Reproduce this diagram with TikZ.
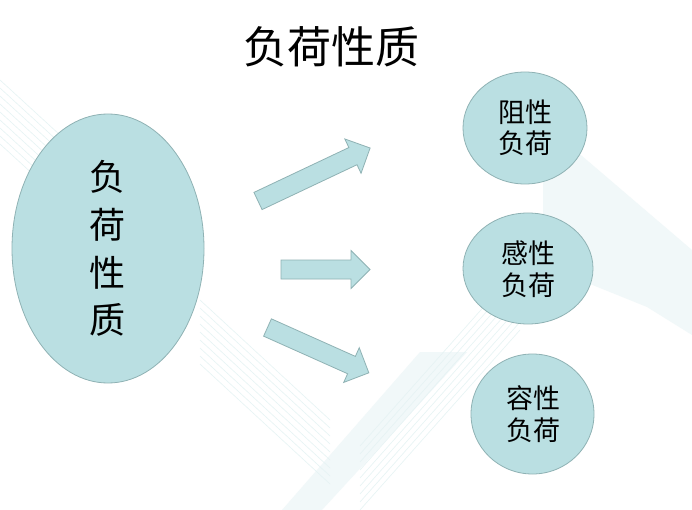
\documentclass[tikz,border=0pt]{standalone}
\usepackage{fontspec}
\newfontfamily\cjk{Noto Sans CJK SC}
\usetikzlibrary{shapes.geometric}
\definecolor{shapefill}{HTML}{BADFE2}
\definecolor{shapeline}{HTML}{8FB2B4}
\definecolor{bgband}{HTML}{F1F8F9}
\definecolor{bgline}{HTML}{E6F3F4}
\begin{document}
\begin{tikzpicture}[x=1pt,y=-1pt,
  blob/.style={ellipse, fill=shapefill, draw=shapeline, line width=0.8pt, inner sep=0pt},
  bigarrow/.style={fill=shapefill, draw=shapeline, line width=0.8pt, line join=miter},
  label/.style={inner sep=0pt, align=center, font=\cjk, text=black},
  band/.style={fill=bgband, draw=none},
  stripe/.style={draw=bgline, line width=0.6pt}]
\useasboundingbox[fill=white] (0,0) rectangle (692,510);

% faint background decoration
\fill[band] (282,510) -- (420,352) -- (467,352) -- (322,510) -- cycle;
\fill[band] (543,183) -- (575,150) -- (692,250) -- (692,335) -- (647,307) -- (543,265) -- cycle;
\foreach \d in {0,8,...,64} {
  \draw[stripe] (0,80+\d) -- (120,190+\d);
  \draw[stripe] (200,300+\d) -- (330,420+\d);
  \draw[stripe] (360,510-\d) -- (520,330-\d);
}

% title
\node[label, font=\cjk\fontsize{44pt}{48pt}\selectfont] (title) at (331,47) {负荷性质};

% source ellipse
\node[blob, minimum width=192pt, minimum height=269pt] (src) at (108,248.5) {};
\node[label, font=\cjk\fontsize{36pt}{47.7pt}\selectfont] (srctext) at (107,248.5) {负\\荷\\性\\质};

% target circles
\node[blob, minimum width=124pt, minimum height=112pt] (c1) at (525,128) {};
\node[blob, minimum width=130pt, minimum height=111pt] (c2) at (528,268.5) {};
\node[blob, minimum width=123pt, minimum height=120pt] (c3) at (532.5,414) {};
\node[label, font=\cjk\fontsize{27pt}{31.5pt}\selectfont] (t1) at (525,127.5) {阻性\\负荷};
\node[label, font=\cjk\fontsize{27pt}{31.5pt}\selectfont] (t2) at (528,269) {感性\\负荷};
\node[label, font=\cjk\fontsize{27pt}{31.5pt}\selectfont] (t3) at (533,414) {容性\\负荷};

% block arrows
\begin{scope}[shift={(258,201)}, rotate=25.3]
  \draw[bigarrow] (0,-9.5) -- (105,-9.5) -- (105,-19) -- (124,0) -- (105,19) -- (105,9.5) -- (0,9.5) -- cycle;
\end{scope}
\begin{scope}[shift={(281,269.5)}]
  \draw[bigarrow] (0,-9.5) -- (70,-9.5) -- (70,-19) -- (89,0) -- (70,19) -- (70,9.5) -- (0,9.5) -- cycle;
\end{scope}
\begin{scope}[shift={(267.5,327.5)}, rotate=-24.1]
  \draw[bigarrow] (0,-9.5) -- (92,-9.5) -- (92,-19) -- (111,0) -- (92,19) -- (92,9.5) -- (0,9.5) -- cycle;
\end{scope}
\end{tikzpicture}
\end{document}
